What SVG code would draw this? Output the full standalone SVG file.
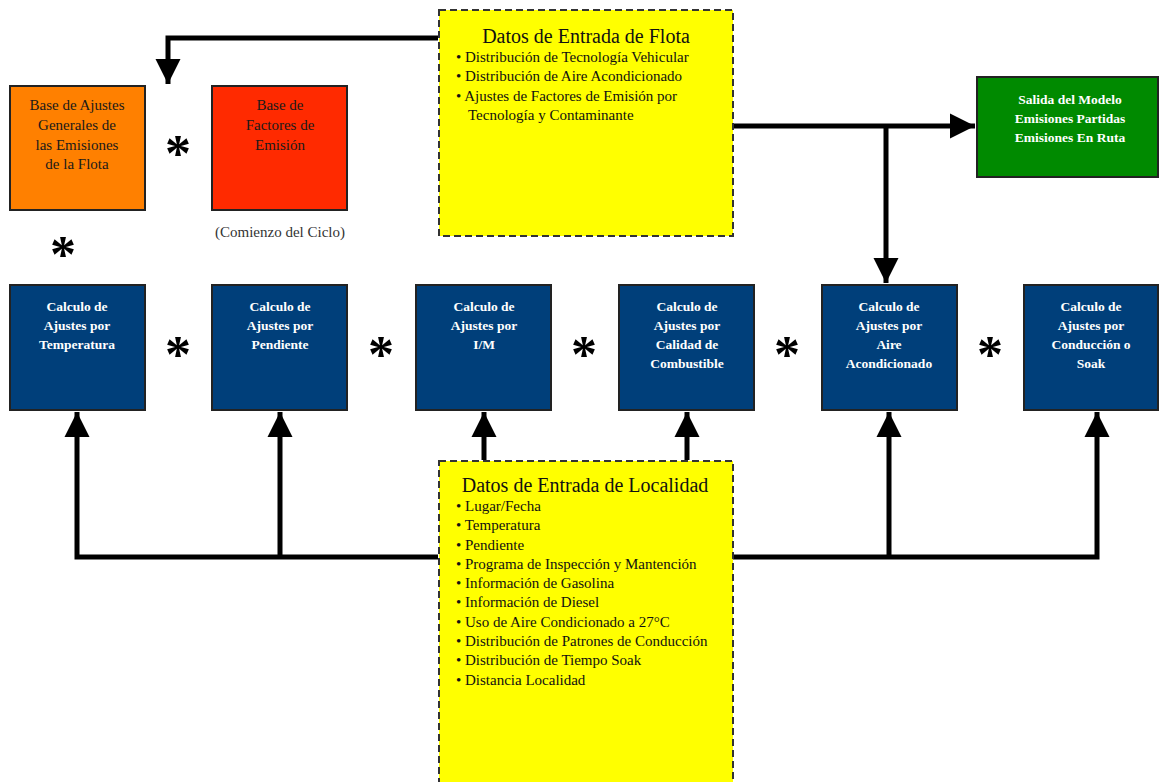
<svg xmlns="http://www.w3.org/2000/svg" width="1159" height="782" viewBox="0 0 1159 782">
<style>
.bg{fill:#fff}
.box{stroke:#222;stroke-width:2}
.blue{fill:#003f7a}
.yel{fill:#ffff00;stroke:#333;stroke-width:2;stroke-dasharray:7 4}
.wt{font-family:"Liberation Serif",serif;font-size:13.5px;font-weight:bold;fill:#fff;text-anchor:middle}
.gw{font-family:"Liberation Serif",serif;font-size:13.5px;font-weight:bold;fill:#fff;text-anchor:middle}
.dk{font-family:"Liberation Serif",serif;font-size:15px;fill:#1a1a1a;text-anchor:middle}
.ttl{font-family:"Liberation Serif",serif;font-size:20px;fill:#111;text-anchor:middle}
.li{font-family:"Liberation Serif",serif;font-size:15px;fill:#111}
.ast{font-family:"Liberation Serif",serif;font-size:52px;font-weight:bold;fill:#000;text-anchor:middle}
.cap{font-family:"Liberation Serif",serif;font-size:15px;fill:#333;text-anchor:middle}
.ln{stroke:#000;stroke-width:5;fill:none}
</style>
<defs>
<marker id="ah" viewBox="0 0 10 10" refX="10" refY="5" markerWidth="5" markerHeight="5.4" orient="auto" markerUnits="strokeWidth">
<path d="M0,0 L10,5 L0,10 Z" fill="#000"/>
</marker>
</defs>
<rect class="bg" x="0" y="0" width="1159" height="782"/>

<g id="connectors">
<polyline class="ln" points="438,38 168,38 168,84" marker-end="url(#ah)"/>
<line class="ln" x1="733" y1="126" x2="975" y2="126" marker-end="url(#ah)"/>
<line class="ln" x1="886" y1="126" x2="886" y2="283" marker-end="url(#ah)"/>
<polyline class="ln" points="438,557 77,557 77,412" marker-end="url(#ah)"/>
<line class="ln" x1="280" y1="557" x2="280" y2="412" marker-end="url(#ah)"/>
<line class="ln" x1="484" y1="460" x2="484" y2="412" marker-end="url(#ah)"/>
<line class="ln" x1="687" y1="460" x2="687" y2="412" marker-end="url(#ah)"/>
<polyline class="ln" points="733,557 1097,557 1097,412" marker-end="url(#ah)"/>
<line class="ln" x1="889" y1="557" x2="889" y2="412" marker-end="url(#ah)"/>
</g>

<g id="flota">
<rect class="yel" x="439" y="10" width="294" height="226"/>
<text class="ttl" x="586" y="43">Datos de Entrada de Flota</text>
<text class="li" x="456" y="62">• Distribución de Tecnología Vehicular</text>
<text class="li" x="456" y="81">• Distribución de Aire Acondicionado</text>
<text class="li" x="456" y="101">• Ajustes de Factores de Emisión por</text>
<text class="li" x="468" y="120">Tecnología y Contaminante</text>
</g>

<g id="base-ajustes">
<rect class="box" x="10" y="86" width="135" height="124" fill="#ff8000"/>
<text class="dk" x="77" y="110">Base de Ajustes</text>
<text class="dk" x="77" y="130">Generales de</text>
<text class="dk" x="77" y="150">las Emisiones</text>
<text class="dk" x="77" y="169">de la Flota</text>
</g>

<g id="base-factores">
<rect class="box" x="212" y="86" width="135" height="124" fill="#ff2a00"/>
<text class="dk" x="280" y="110">Base de</text>
<text class="dk" x="280" y="130">Factores de</text>
<text class="dk" x="280" y="150">Emisión</text>
<text class="cap" x="280" y="237">(Comienzo del Ciclo)</text>
</g>

<g id="salida">
<rect class="box" x="977" y="77" width="181" height="100" fill="#008a00"/>
<text class="gw" x="1070" y="104">Salida del Modelo</text>
<text class="gw" x="1070" y="123">Emisiones Partidas</text>
<text class="gw" x="1070" y="142">Emisiones En Ruta</text>
</g>

<g id="asteriscos">
<text class="ast" x="178" y="171">*</text>
<text class="ast" x="63" y="272">*</text>
<text class="ast" x="178" y="372">*</text>
<text class="ast" x="381" y="372">*</text>
<text class="ast" x="584" y="372">*</text>
<text class="ast" x="787" y="372">*</text>
<text class="ast" x="990" y="372">*</text>
</g>

<g id="calc-temperatura">
<rect class="box blue" x="10" y="285" width="135" height="125"/>
<text class="wt" x="77" y="311">Calculo de</text>
<text class="wt" x="77" y="330">Ajustes  por</text>
<text class="wt" x="77" y="349">Temperatura</text>
</g>
<g id="calc-pendiente">
<rect class="box blue" x="212" y="285" width="135" height="125"/>
<text class="wt" x="280" y="311">Calculo de</text>
<text class="wt" x="280" y="330">Ajustes  por</text>
<text class="wt" x="280" y="349">Pendiente</text>
</g>
<g id="calc-im">
<rect class="box blue" x="416" y="285" width="135" height="125"/>
<text class="wt" x="484" y="311">Calculo de</text>
<text class="wt" x="484" y="330">Ajustes  por</text>
<text class="wt" x="484" y="349">I/M</text>
</g>
<g id="calc-combustible">
<rect class="box blue" x="619" y="285" width="135" height="125"/>
<text class="wt" x="687" y="311">Calculo de</text>
<text class="wt" x="687" y="330">Ajustes  por</text>
<text class="wt" x="687" y="349">Calidad de</text>
<text class="wt" x="687" y="368">Combustible</text>
</g>
<g id="calc-aire">
<rect class="box blue" x="822" y="285" width="135" height="125"/>
<text class="wt" x="889" y="311">Calculo de</text>
<text class="wt" x="889" y="330">Ajustes por</text>
<text class="wt" x="889" y="349">Aire</text>
<text class="wt" x="889" y="368">Acondicionado</text>
</g>
<g id="calc-conduccion">
<rect class="box blue" x="1024" y="285" width="134" height="125"/>
<text class="wt" x="1091" y="311">Calculo de</text>
<text class="wt" x="1091" y="330">Ajustes  por</text>
<text class="wt" x="1091" y="349">Conducción o</text>
<text class="wt" x="1091" y="368">Soak</text>
</g>

<g id="localidad">
<rect class="yel" x="439" y="461" width="294" height="330"/>
<text class="ttl" x="585" y="492">Datos de Entrada de Localidad</text>
<text class="li" x="456" y="511">• Lugar/Fecha</text>
<text class="li" x="456" y="530">• Temperatura</text>
<text class="li" x="456" y="550">• Pendiente</text>
<text class="li" x="456" y="569">• Programa de Inspección y Mantención</text>
<text class="li" x="456" y="588">• Información de Gasolina</text>
<text class="li" x="456" y="607">• Información de Diesel</text>
<text class="li" x="456" y="627">• Uso de Aire Condicionado a 27°C</text>
<text class="li" x="456" y="646">• Distribución de Patrones de Conducción</text>
<text class="li" x="456" y="665">• Distribución de Tiempo Soak</text>
<text class="li" x="456" y="685">• Distancia Localidad</text>
</g>
</svg>
